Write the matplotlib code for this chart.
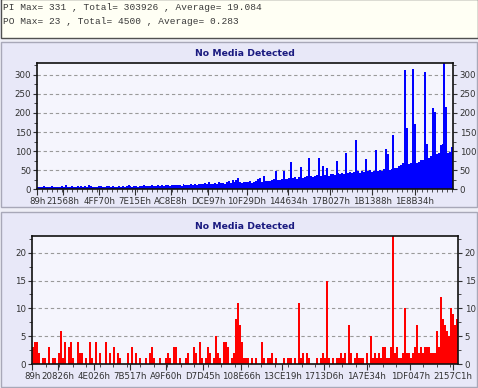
import numpy as np
import matplotlib
matplotlib.use("Agg")
import matplotlib.pyplot as plt
from matplotlib.patches import Rectangle
from matplotlib.ticker import MultipleLocator

summary_lines = [
    "PI Max= 331 , Total= 303926 , Average= 19.084",
    "PO Max= 23 , Total= 4500 , Average= 0.283",
]
chart_title = "No Media Detected"

pi_values = [
    6, 7, 5, 8, 6, 7, 6, 9, 6, 7,
    7, 6, 8, 7, 10, 7, 6, 8, 7, 6,
    8, 7, 9, 6, 8, 7, 10, 8, 7, 6,
    7, 9, 8, 7, 6, 8, 9, 7, 8, 6,
    7, 8, 6, 9, 7, 8, 10, 8, 7, 9,
    8, 7, 9, 8, 10, 9, 8, 9, 11, 8,
    9, 10, 8, 11, 9, 10, 12, 9, 10, 11,
    10, 12, 11, 9, 13, 11, 12, 10, 14, 12,
    13, 12, 15, 13, 14, 16, 13, 18, 15, 14,
    17, 15, 19, 16, 17, 15, 18, 21, 17, 25,
    18, 24, 29, 19, 17, 20, 18, 19, 21, 17,
    20, 22, 27, 29, 20, 35, 21, 23, 22, 24,
    26, 48, 24, 25, 27, 48, 26, 28, 30, 71,
    29, 31, 28, 33, 59, 30, 32, 34, 82, 36,
    33, 35, 37, 82, 34, 60, 38, 56, 36, 39,
    40, 38, 74, 42, 39, 44, 41, 96, 43, 45,
    42, 46, 129, 47, 44, 49, 45, 80, 48, 51,
    46, 48, 104, 47, 50, 49, 52, 106, 93, 50,
    52, 143, 55, 56, 60, 64, 68, 313, 160, 66,
    68, 316, 170, 70, 72, 76, 78, 308, 118, 82,
    88, 214, 202, 92, 95, 115, 120, 331, 215, 96,
    98, 110,
]

po_values = [
    3, 4, 4, 2, 0, 1, 1, 0, 3, 0,
    1, 1, 0, 2, 6, 1, 4, 0, 3, 4,
    1, 0, 4, 2, 2, 0, 1, 0, 4, 1,
    0, 4, 0, 2, 0, 0, 4, 0, 2, 0,
    3, 0, 2, 1, 0, 0, 0, 2, 0, 3,
    0, 2, 0, 1, 0, 0, 1, 0, 2, 3,
    1, 0, 0, 1, 0, 0, 1, 2, 1, 0,
    3, 3, 0, 1, 0, 0, 1, 2, 0, 0,
    3, 2, 0, 4, 1, 0, 1, 3, 2, 0,
    1, 5, 2, 1, 0, 4, 4, 3, 0, 1,
    2, 8, 11, 7, 4, 1, 1, 1, 0, 1,
    0, 1, 0, 0, 4, 1, 0, 1, 1, 2,
    0, 1, 0, 0, 0, 1, 0, 1, 1, 0,
    1, 0, 11, 1, 2, 0, 2, 1, 0, 0,
    0, 1, 0, 1, 2, 1, 15, 1, 0, 1,
    0, 1, 1, 2, 1, 2, 0, 7, 2, 0,
    1, 2, 1, 1, 1, 0, 2, 0, 5, 1,
    2, 1, 2, 1, 3, 3, 1, 1, 3, 23,
    2, 3, 1, 1, 2, 10, 2, 2, 1, 2,
    3, 7, 2, 3, 2, 3, 3, 3, 2, 2,
    2, 6, 3, 12, 8, 7, 6, 5, 10, 9,
    7, 8,
]

pi_xticklabels = ["89h", "21568h", "4FF70h", "7E15Eh", "AC8E8h", "DCE97h",
                  "10F29Dh", "144634h", "17B027h", "1B1388h", "1E8B34h"]
po_xticklabels = ["89h", "20826h", "4E026h", "7B517h", "A9F60h", "D7D45h",
                  "108E66h", "13CE19h", "1713D6h", "1A7E34h", "1DF047h", "2157C1h"]
pi_yticks = [0, 50, 100, 150, 200, 250, 300]
po_yticks = [0, 5, 10, 15, 20]

W, H = 478, 388
fig = plt.figure(figsize=(W / 100, H / 100), dpi=100)
fig.patch.set_facecolor("#EEEEF6")

def fr(x0, y0, x1, y1):
    return (x0 / W, 1 - y1 / H, (x1 - x0) / W, (y1 - y0) / H)

def add_rect(x0, y0, x1, y1, fc, ec, lw=1.0):
    l, b, w, h = fr(x0, y0, x1, y1)
    fig.patches.append(Rectangle((l, b), w, h, transform=fig.transFigure,
                                 facecolor=fc, edgecolor=ec, lw=lw, zorder=-10))

add_rect(0.5, -1, 477.5, 38, "#FFFFF4", "#505050", 1.0)
add_rect(1, 42, 477, 207, "#E8E8F8", "#A8A8B8", 1.0)
add_rect(1, 212, 477, 387, "#E8E8F8", "#A8A8B8", 1.0)

fig.text(3 / W, 1 - 7 / H, summary_lines[0], family="Liberation Mono", fontsize=6.8,
         color="#3A3A3A", va="center", ha="left")
fig.text(3 / W, 1 - 21 / H, summary_lines[1], family="Liberation Mono", fontsize=6.8,
         color="#3A3A3A", va="center", ha="left")

fig.text(245 / W, 1 - 53 / H, chart_title, fontsize=6.7, fontweight="bold",
         color="#1A1A80", ha="center", va="center")
fig.text(245 / W, 1 - 226 / H, chart_title, fontsize=6.7, fontweight="bold",
         color="#1A1A80", ha="center", va="center")


def style_axes(ax, xmax, ymax, yticks, yminor, xlabels, xminor):
    ax.set_zorder(5)
    ax.set_facecolor("#F5F5FD")
    ax.set_xlim(0, xmax)
    ax.set_ylim(0, ymax)
    ax.set_yticks(yticks)
    ax.yaxis.set_minor_locator(MultipleLocator(yminor))
    ax.set_xticks([int(s[:-1], 16) for s in xlabels])
    ax.set_xticklabels(xlabels)
    ax.xaxis.set_minor_locator(MultipleLocator(xminor))
    ax.tick_params(axis="both", which="major", labelsize=6.2, colors="#303030",
                   length=3, width=0.8, pad=1.5)
    ax.tick_params(axis="x", which="major", length=4, pad=1.8)
    ax.tick_params(axis="both", which="minor", length=2, width=0.6, colors="#303030")
    ax.tick_params(axis="y", which="both", right=True, labelright=True)
    ax.grid(axis="y", which="major", color="#9A9A9A", linestyle=(0, (3, 2.5)), lw=0.8)
    ax.set_axisbelow(True)
    for s in ax.spines.values():
        s.set_color("#101010")
        s.set_linewidth(1.2)


# PI chart
ax1 = fig.add_axes(fr(37.3, 63, 453.3, 189.3))
pi_xmax = 2205000
n1 = len(pi_values)
w1 = pi_xmax / n1
x1 = np.arange(n1) * w1
ax1.bar(x1, pi_values, width=w1, align="edge", color="#0000FF", lw=0, zorder=2)
style_axes(ax1, pi_xmax, 331, pi_yticks, 25, pi_xticklabels, 26500)

# PO chart
ax2 = fig.add_axes(fr(32.3, 236, 458.3, 364))
po_xmax = 2212000
n2 = len(po_values)
w2 = po_xmax / n2
x2 = np.arange(n2) * w2
ax2.bar(x2, po_values, width=w2, align="edge", color="#FF0000", lw=0, zorder=2)
style_axes(ax2, po_xmax, 23, po_yticks, 2.5, po_xticklabels, 70000)

fig.savefig("out.png", dpi=100, facecolor=fig.get_facecolor())
